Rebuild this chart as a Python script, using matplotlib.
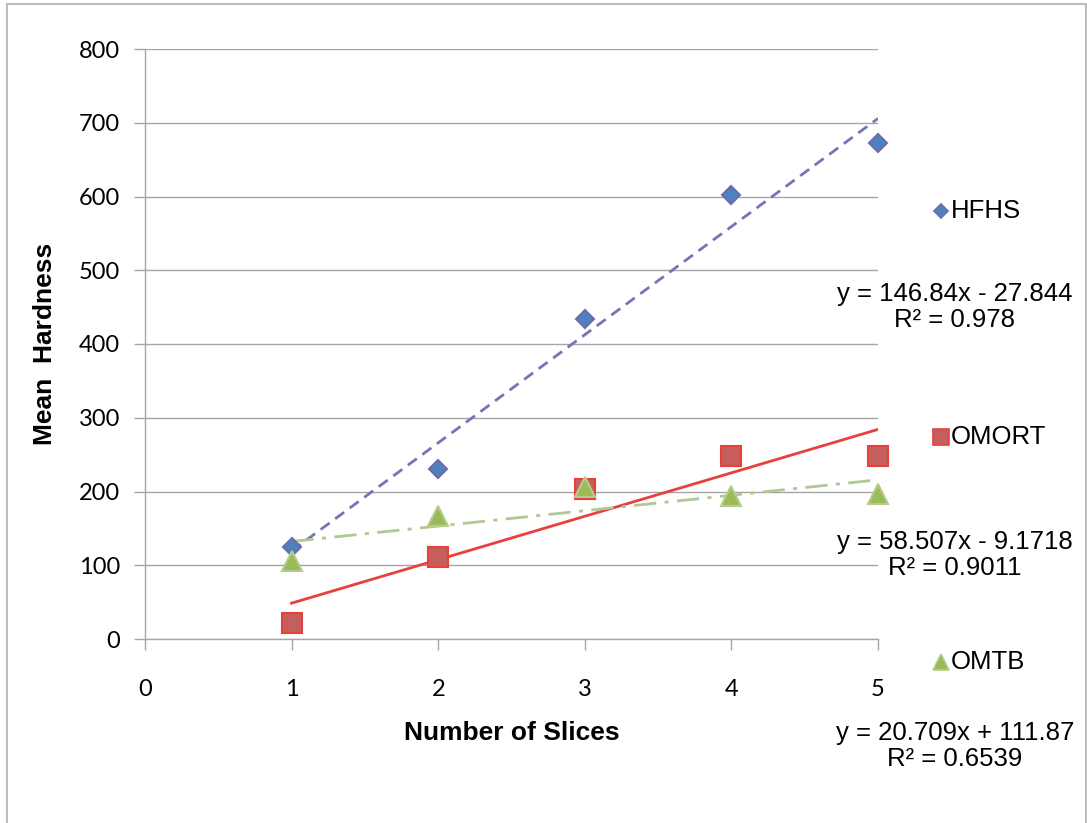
import numpy as np
import matplotlib
matplotlib.use("Agg")
import matplotlib.pyplot as plt
from matplotlib.patches import Rectangle

# --- data ---
slices = [1, 2, 3, 4, 5]
hfhs = [125, 230, 434, 602, 672]
omort = [22, 111, 203, 248, 248]
omtb = [106, 167, 206, 194, 197]

series_names = ["HFHS", "OMORT", "OMTB"]
equations = ["y = 146.84x - 27.844\nR\u00b2 = 0.978",
             "y = 58.507x - 9.1718\nR\u00b2 = 0.9011",
             "y = 20.709x + 111.87\nR\u00b2 = 0.6539"]

y_ticks = [0, 100, 200, 300, 400, 500, 600, 700, 800]
x_ticks = [0, 1, 2, 3, 4, 5]

# styles
styles = [
    dict(marker="D", ms=9.5, mfc="#4F81BD", mec="#6B6BAE", line="#7474B8", ls=(0, (4, 2.5))),
    dict(marker="s", ms=14, mfc="#C65F5B", mec="#E8403C", line="#E8403C", ls="-"),
    dict(marker="^", ms=15, mfc="#9BBB59", mec="#B5CC8E", line="#AFC896", ls=(0, (8, 3, 1.5, 3))),
]
LEG_FONT = "Liberation Sans"
TICK_FONT = "Lato"

fig = plt.figure(figsize=(10.87, 8.23), dpi=100)
ax = fig.add_axes([145 / 1087, 1 - 639 / 823, (878 - 145) / 1087, (639 - 49) / 823])

# figure border like the Excel chart area
fig.patches.append(Rectangle((7 / 1087, -0.05), (1086 - 7) / 1087, 1.05 - 4 / 823,
                             transform=fig.transFigure, fill=False,
                             edgecolor="#BDBDBD", linewidth=1.5))

xs = np.array(slices, dtype=float)
for ys, st in zip([hfhs, omort, omtb], styles):
    ys = np.array(ys, dtype=float)
    # linear trendline fit
    k, b = np.polyfit(xs, ys, 1)
    ax.plot([1, 5], [k * 1 + b, k * 5 + b], color=st["line"], linestyle=st["ls"],
            linewidth=2, zorder=2)
    ax.plot(xs, ys, linestyle="none", marker=st["marker"], markersize=st["ms"],
            markerfacecolor=st["mfc"], markeredgecolor=st["mec"], markeredgewidth=1.5,
            zorder=3, clip_on=False)

ax.set_xlim(0, 5)
ax.set_ylim(0, 800)
ax.set_xticks(x_ticks)
ax.set_yticks(y_ticks)
ax.grid(axis="y", color="#A6A6A6", linewidth=1)
ax.set_axisbelow(True)
for side in ["top", "right"]:
    ax.spines[side].set_visible(False)
for side in ["left", "bottom"]:
    ax.spines[side].set_color("#A6A6A6")
    ax.spines[side].set_linewidth(1)
ax.tick_params(axis="both", direction="out", length=8, color="#A6A6A6", width=1,
               labelsize=17)
ax.tick_params(axis="x", pad=21)
ax.tick_params(axis="y", pad=10)
for lab in ax.get_xticklabels() + ax.get_yticklabels():
    lab.set_fontfamily(TICK_FONT)

ax.set_xlabel("Number of Slices", fontsize=19, fontweight="bold", family=LEG_FONT, va="center")
ax.set_ylabel("Mean  Hardness", fontsize=19, fontweight="bold", family=LEG_FONT, va="center")
ax.xaxis.set_label_coords(0.5, (639 - 733) / 590)
ax.yaxis.set_label_coords((45 - 145) / 733, 0.5)

# legend entries and equations on the right
leg_y = [211, 437, 662]
eq_y = [307, 555, 746]
for name, eq, st, ly, ey in zip(series_names, equations, styles, leg_y, eq_y):
    msize = st["ms"] * (0.75 if st["marker"] == "D" else 0.8)
    fig.lines.append(plt.Line2D([941 / 1087], [1 - ly / 823], transform=fig.transFigure,
                                marker=st["marker"], markersize=msize,
                                markerfacecolor=st["mfc"], markeredgecolor=st["mec"],
                                markeredgewidth=1.2, linestyle="none"))
    fig.text(951 / 1087, 1 - ly / 823, name, fontsize=18.5, family=LEG_FONT,
             ha="left", va="center")
    fig.text(955 / 1087, 1 - ey / 823, eq, fontsize=18.5, family=LEG_FONT,
             ha="center", va="center", multialignment="center", linespacing=1.15)

fig.savefig("out.png", dpi=100)
